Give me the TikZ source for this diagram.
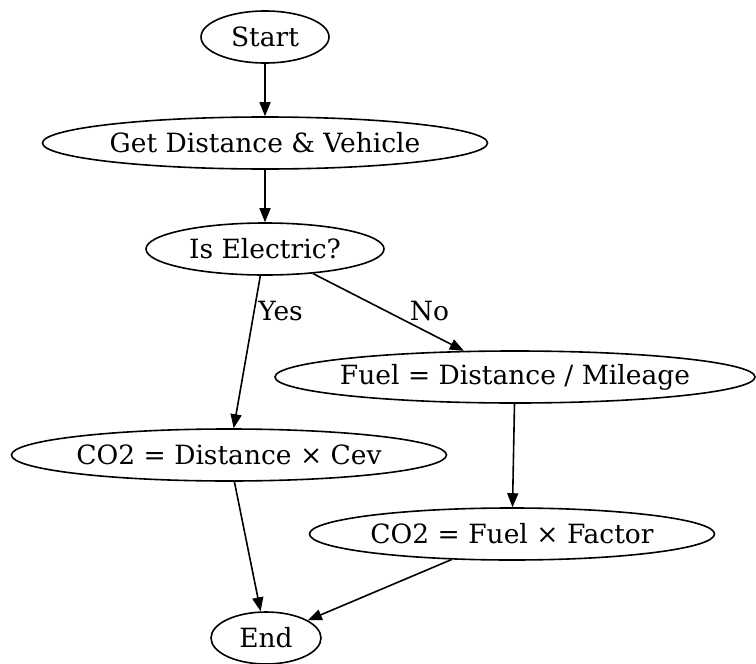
\documentclass[tikz,border=0pt]{standalone}
\usepackage{fontspec}
\setmainfont{DejaVu Serif}
\usetikzlibrary{positioning,shapes.geometric,arrows.meta}

\begin{document}
\begin{tikzpicture}[x=1pt, y=1pt,
    >={Triangle[length=14pt,width=11pt]},
    line width=1.6pt,
    node distance=106pt,
    font=\fontsize{26.5}{31}\selectfont,
    flow/.style={ellipse, draw, inner ysep=0pt, inner xsep=-20pt, minimum height=52pt}]
    \useasboundingbox (0,0) rectangle (756,-664);
    \node[flow, minimum width=128pt] (start) at (265,-37) {Start};
    \node[flow, minimum width=445pt] (get) [below of=start] {Get Distance \& Vehicle};
    \node[flow, minimum width=238pt] (elec) [below of=get] {Is Electric?};
    \node[flow, minimum width=480pt] (fuel) at (515,-377) {Fuel = Distance / Mileage};
    \node[flow, minimum width=435pt] (co2ev) at (229,-455) {CO2 = Distance × Cev};
    \node[flow, minimum width=405pt] (co2fuel) at (512,-534) {CO2 = Fuel × Factor};
    \node[flow, minimum width=110pt] (end) at (266,-638) {End};
    \path[->] (start) edge (get)
        (get) edge (elec)
        (elec) edge node[right, pos=0.23] {Yes} (co2ev)
        (elec) edge node[above right, pos=0.63, inner sep=1pt] {No} (fuel)
        (fuel) edge (co2fuel)
        (co2ev) edge (end)
        (co2fuel) edge (end);
\end{tikzpicture}
\end{document}
